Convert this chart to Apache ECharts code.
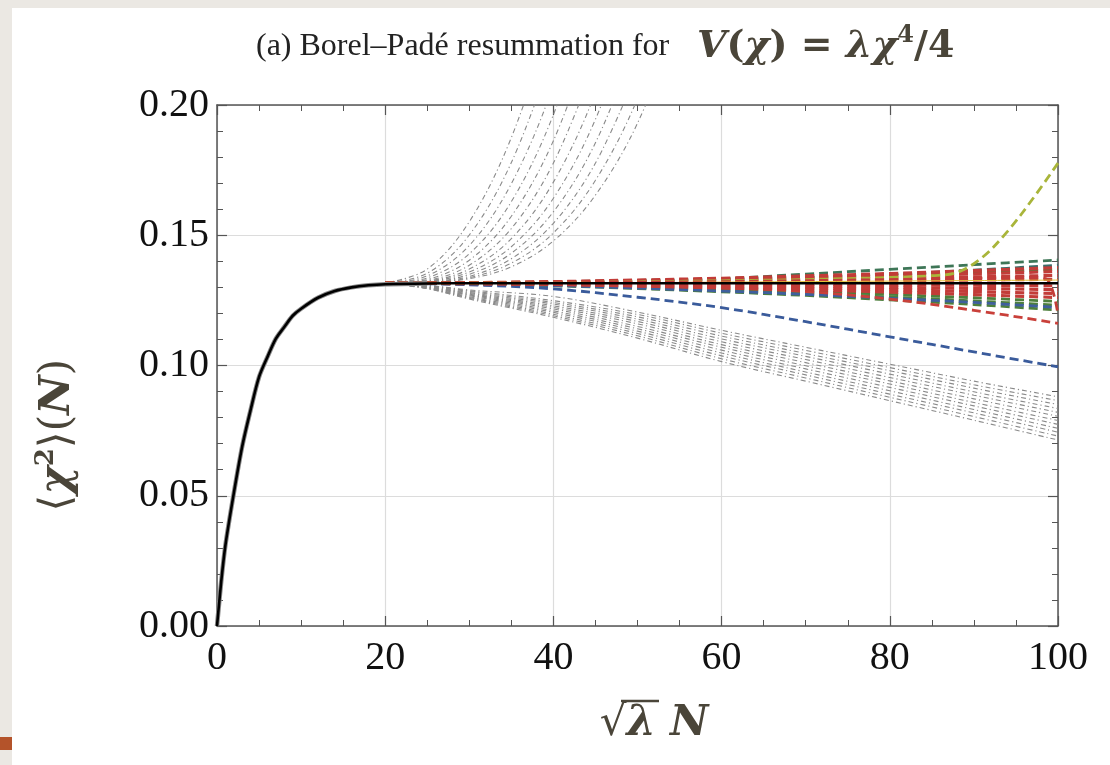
<!DOCTYPE html>
<html>
<head>
<meta charset="utf-8">
<script src="https://cdn.jsdelivr.net/npm/echarts@6/dist/echarts.min.js"></script>
<style>
html,body{margin:0;padding:0;background:#fff;}
#c{width:1110px;height:765px;}
</style>
</head>
<body>
<div id="c"></div>
<script>
// ---------- data ----------
const exactX = [0,0.5,1,2,3,4,5,6,7,8,9,10,12,14,16,18,20,25,30,40,50,60,70,80,90,100];
const exactY = [0,0.017,0.031,0.051,0.069,0.083,0.0956,0.1033,0.1103,0.1148,0.1191,0.1218,0.126,0.1286,0.13,0.1308,0.1312,0.1315,0.1316,0.1316,0.1316,0.1316,0.1316,0.1316,0.1316,0.1316];

// grey dash-dot approximants diverging upward
const upX = [20,25,30,35,40,45,50,55];
const up1  = [0.1316,0.1370,0.1552,0.1875,0.2349];
const up2  = [0.1316,0.1354,0.1501,0.1779,0.2204];
const up3  = [0.1316,0.1344,0.1461,0.1698,0.2076,0.2612];
const up4  = [0.1316,0.1336,0.1429,0.1629,0.1963,0.2450];
const up5  = [0.1316,0.1330,0.1404,0.1573,0.1863,0.2300];
const up6  = [0.1316,0.1326,0.1385,0.1526,0.1777,0.2167];
const up7  = [0.1316,0.1324,0.1370,0.1487,0.1704,0.2048,0.2546];
const up8  = [0.1316,0.1322,0.1359,0.1456,0.1642,0.1945,0.2390];
const up9  = [0.1316,0.1320,0.1350,0.1431,0.1590,0.1855,0.2254];
const up10 = [0.1316,0.1319,0.1342,0.1410,0.1546,0.1777,0.2131];
const up11 = [0.1316,0.1318,0.1337,0.1393,0.1509,0.1711,0.2024,0.2476];
const up12 = [0.1316,0.1318,0.1333,0.1379,0.1478,0.1654,0.1930,0.2340];

// grey dash-dot approximants diverging downward
const downX = [20,25,30,40,50,60,70,80,90,100];
const dn1  = [0.1316,0.1308,0.1290,0.1265,0.1205,0.1135,0.1070,0.1005,0.0940,0.0880];
const dn2  = [0.1316,0.1307,0.1287,0.1249,0.1196,0.1124,0.1058,0.0992,0.0926,0.0865];
const dn3  = [0.1316,0.1306,0.1284,0.1242,0.1187,0.1113,0.1046,0.0980,0.0913,0.0850];
const dn4  = [0.1316,0.1304,0.1280,0.1236,0.1178,0.1102,0.1035,0.0967,0.0899,0.0835];
const dn5  = [0.1316,0.1303,0.1277,0.1229,0.1169,0.1091,0.1023,0.0954,0.0886,0.0820];
const dn6  = [0.1316,0.1302,0.1274,0.1223,0.1160,0.1080,0.1011,0.0941,0.0872,0.0805];
const dn7  = [0.1316,0.1301,0.1271,0.1217,0.1150,0.1070,0.0999,0.0929,0.0858,0.0789];
const dn8  = [0.1316,0.1300,0.1268,0.1210,0.1141,0.1059,0.0987,0.0916,0.0845,0.0774];
const dn9  = [0.1316,0.1299,0.1264,0.1204,0.1132,0.1048,0.0975,0.0903,0.0831,0.0759];
const dn10 = [0.1316,0.1297,0.1261,0.1197,0.1123,0.1037,0.0964,0.0890,0.0818,0.0744];
const dn11 = [0.1316,0.1296,0.1258,0.1191,0.1114,0.1026,0.0952,0.0878,0.0804,0.0729];
const dn12 = [0.1316,0.1295,0.1255,0.1185,0.1105,0.1015,0.0940,0.0865,0.0790,0.0714];

// coloured Borel-Padé approximants
const tailX = [20,30,40,50,60,70,80,90,100];
const blueLow   = [0.1316,0.1310,0.1294,0.1262,0.1222,0.1168,0.1110,0.1052,0.0995];
const greenTop  = [0.1316,0.1317,0.1319,0.1324,0.1333,0.1351,0.1369,0.1387,0.1405];
const tealTop   = [0.1316,0.1317,0.1319,0.1323,0.1329,0.1338,0.1350,0.1366,0.1385];
const green1    = [0.1316,0.1318,0.1321,0.1327,0.1333,0.1340,0.1349,0.1358,0.1369];
const green2    = [0.1316,0.1314,0.1309,0.1302,0.1294,0.1284,0.1273,0.1260,0.1246];
const green3    = [0.1316,0.1313,0.1308,0.1299,0.1289,0.1277,0.1263,0.1248,0.1231];
const green4    = [0.1316,0.1313,0.1306,0.1295,0.1283,0.1269,0.1252,0.1234,0.1213];
const blueBand  = [0.1316,0.1313,0.1307,0.1297,0.1286,0.1273,0.1258,0.1242,0.1223];
const red1      = [0.1316,0.1318,0.1322,0.1328,0.1335,0.1344,0.1353,0.1364,0.1376];
const red2      = [0.1316,0.1317,0.1321,0.1325,0.1330,0.1337,0.1344,0.1352,0.1361];
const red3      = [0.1316,0.1317,0.1319,0.1322,0.1326,0.1330,0.1335,0.1340,0.1346];
const red4      = [0.1316,0.1316,0.1318,0.1319,0.1321,0.1323,0.1325,0.1328,0.1331];
const red5      = [0.1316,0.1316,0.1315,0.1314,0.1313,0.1311,0.1310,0.1308,0.1306];
const red6      = [0.1316,0.1315,0.1314,0.1311,0.1308,0.1304,0.1300,0.1296,0.1291];
const red7      = [0.1316,0.1315,0.1312,0.1308,0.1303,0.1298,0.1291,0.1284,0.1276];
const red8      = [0.1316,0.1314,0.1311,0.1305,0.1298,0.1291,0.1282,0.1272,0.1261];
const redLow    = [0.1316,0.1315,0.1312,0.1306,0.1298,0.1284,0.1255,0.1212,0.1162];
const thinYellow= [0.1316,0.1316,0.1317,0.1318,0.1320,0.1322,0.1324,0.1326,0.1328];
const yellowX = [20,40,60,70,80,85,88,91,94,97,100];
const yellowY = [0.1316,0.1318,0.1325,0.1330,0.1338,0.1345,0.1357,0.1415,0.1515,0.1640,0.1777];
const dipX = [20,40,60,80,90,96,98.5,100];
const dipY = [0.1316,0.1318,0.1322,0.1330,0.1335,0.1338,0.1334,0.1195];

const xTicks = [0,20,40,60,80,100];
const yTicks = ['0.00','0.05','0.10','0.15','0.20'];

// ---------- build ----------
const pts = (xs, ys) => ys.map((y, i) => [xs[i], y]);
const series = [];
const greyStyle = {color:'#8a8a8a', width:1.1, type:[5,3,1.2,3]};
[up1,up2,up3,up4,up5,up6,up7,up8,up9,up10,up11,up12].forEach(a => series.push({
  type:'line', data:pts(upX,a), smooth:0.35, symbol:'none', lineStyle:greyStyle, z:2, silent:true}));
[dn1,dn2,dn3,dn4,dn5,dn6,dn7,dn8,dn9,dn10,dn11,dn12].forEach(a => series.push({
  type:'line', data:pts(downX,a), smooth:0.35, symbol:'none', lineStyle:greyStyle, z:2, silent:true}));

const dash = [9,5];
function col(xs, ys, color, w) {
  series.push({type:'line', data:pts(xs,ys), smooth:0.35, symbol:'none',
    lineStyle:{color:color, width:w||2.8, type:dash}, z:3, silent:true});
}
col(tailX, greenTop, '#3e7657');
col(tailX, tealTop, '#3c6c68');
col(tailX, green1, '#4d7f3c');
col(tailX, green2, '#4d7f3c');
col(tailX, green3, '#4d7f3c');
col(tailX, green4, '#4d7f3c');
col(tailX, blueBand, '#3f5f9e');
col(tailX, blueLow, '#3a5b9b');
col(tailX, redLow, '#c9403a');
[red1,red2,red3,red4,red5,red6,red7,red8].forEach(a => col(tailX, a, '#c23c38', 3.2));
col(yellowX, yellowY, '#a9b53a');
col(dipX, dipY, '#c23c38');
series.push({type:'line', data:pts(tailX,thinYellow), smooth:0.3, symbol:'none',
  lineStyle:{color:'#e3c23a', width:1}, z:4, silent:true});
// exact curve
series.push({type:'line', data:pts(exactX.slice(0,18),exactY.slice(0,18)), smooth:0.3, symbol:'none',
  lineStyle:{color:'#8a8a8a', width:4.5}, z:4, silent:true});
series.push({type:'line', data:pts(exactX,exactY), smooth:0.3, symbol:'none',
  lineStyle:{color:'#000', width:2.6}, z:5, silent:true});

const axisCol = '#555';
const labelFont = {fontFamily:'Liberation Serif', fontSize:40, color:'#111'};
const chart = echarts.init(document.getElementById('c'));
chart.setOption({
  animation:false,
  backgroundColor:'#fff',
  grid:{left:217, right:52, top:105, bottom:139, containLabel:false, outerBoundsMode:'none'},
  xAxis:[{
    type:'value', min:0, max:100, interval:20, position:'bottom',
    axisLine:{show:true, onZero:false, lineStyle:{color:axisCol, width:1.5}},
    axisTick:{show:true, inside:true, length:10, lineStyle:{color:axisCol, width:1.2}},
    minorTick:{show:true, splitNumber:4, length:6, lineStyle:{color:axisCol, width:1}},
    axisLabel:Object.assign({margin:12, formatter:v => xTicks.includes(v) ? String(v) : ''}, labelFont),
    splitLine:{show:true, lineStyle:{color:'#dcdcdc', width:1.2}}
  },{
    type:'value', min:0, max:100, interval:20, position:'top',
    axisLine:{show:true, onZero:false, lineStyle:{color:axisCol, width:1.5}},
    axisTick:{show:true, inside:true, length:10, lineStyle:{color:axisCol, width:1.2}},
    minorTick:{show:true, splitNumber:4, length:6, lineStyle:{color:axisCol, width:1}},
    axisLabel:{show:false}, splitLine:{show:false}
  }],
  yAxis:[{
    type:'value', min:0, max:0.2, interval:0.05, position:'left',
    axisLine:{show:true, onZero:false, lineStyle:{color:axisCol, width:1.5}},
    axisTick:{show:true, inside:true, length:10, lineStyle:{color:axisCol, width:1.2}},
    minorTick:{show:true, splitNumber:5, length:6, lineStyle:{color:axisCol, width:1}},
    axisLabel:Object.assign({margin:8, formatter:v => yTicks[Math.round(v/0.05)]}, labelFont),
    splitLine:{show:true, lineStyle:{color:'#dcdcdc', width:1.2}}
  },{
    type:'value', min:0, max:0.2, interval:0.05, position:'right',
    axisLine:{show:true, onZero:false, lineStyle:{color:axisCol, width:1.5}},
    axisTick:{show:true, inside:true, length:10, lineStyle:{color:axisCol, width:1.2}},
    minorTick:{show:true, splitNumber:5, length:6, lineStyle:{color:axisCol, width:1}},
    axisLabel:{show:false}, splitLine:{show:false}
  }],
  series: series,
  graphic:[
    {type:'rect', left:0, top:0, shape:{width:12, height:765}, style:{fill:'#ebe8e3'}, z:-1},
    {type:'rect', left:0, top:0, shape:{width:1110, height:8}, style:{fill:'#ebe8e3'}, z:-1},
    {type:'rect', left:0, top:737, shape:{width:12, height:13}, style:{fill:'#b4532a'}, z:-1},
    {type:'text', x:256, y:47, style:{text:'(a) Borel–Padé resummation for', fontFamily:'Liberation Serif',
      fontSize:32, fill:'#222', verticalAlign:'middle', align:'left'}},
    {type:'text', x:697, y:47, style:{
      text:'{m|V}{p|(}{m|χ}{p|) = }{m|λχ}{s|4}{p|/4}', verticalAlign:'middle', align:'left', fill:'#4a4539',
      rich:{
        m:{fontFamily:'DejaVu Serif', fontStyle:'italic', fontWeight:'bold', fontSize:38, lineHeight:46, verticalAlign:'middle', fill:'#4a4539'},
        p:{fontFamily:'DejaVu Serif', fontWeight:'bold', fontSize:38, lineHeight:46, verticalAlign:'middle', fill:'#4a4539'},
        s:{fontFamily:'DejaVu Serif', fontWeight:'bold', fontSize:24, lineHeight:24, verticalAlign:'top', fill:'#4a4539'}
      }}},
    {type:'text', x:58, y:435, rotation:Math.PI/2, style:{
      text:'{p|⟨}{m|χ}{s|2}{p|⟩(}{m|N}{p|)}', align:'center', verticalAlign:'middle', fill:'#4a4539',
      rich:{
        m:{fontFamily:'DejaVu Serif', fontStyle:'italic', fontWeight:'bold', fontSize:43, lineHeight:50, verticalAlign:'middle', fill:'#4a4539'},
        p:{fontFamily:'DejaVu Serif', fontSize:43, lineHeight:50, verticalAlign:'middle', fill:'#4a4539'},
        s:{fontFamily:'DejaVu Serif', fontWeight:'bold', fontSize:26, lineHeight:26, verticalAlign:'top', fill:'#4a4539'}
      }}},
    {type:'text', x:654, y:724, style:{
      text:'{r|√}{m|λ}{g| }{m|N}', align:'center', verticalAlign:'middle', fill:'#4a4539',
      rich:{
        m:{fontFamily:'DejaVu Serif', fontStyle:'italic', fontWeight:'bold', fontSize:42, lineHeight:50, verticalAlign:'middle', fill:'#4a4539'},
        r:{fontFamily:'DejaVu Serif', fontSize:42, lineHeight:50, verticalAlign:'middle', fill:'#4a4539'},
        g:{fontFamily:'DejaVu Serif', fontSize:42, width:14, lineHeight:50, verticalAlign:'middle'}
      }}},
    {type:'line', shape:{x1:621, y1:701, x2:659, y2:701}, style:{stroke:'#4a4539', lineWidth:2.5}}
  ]
});
</script>
</body>
</html>
